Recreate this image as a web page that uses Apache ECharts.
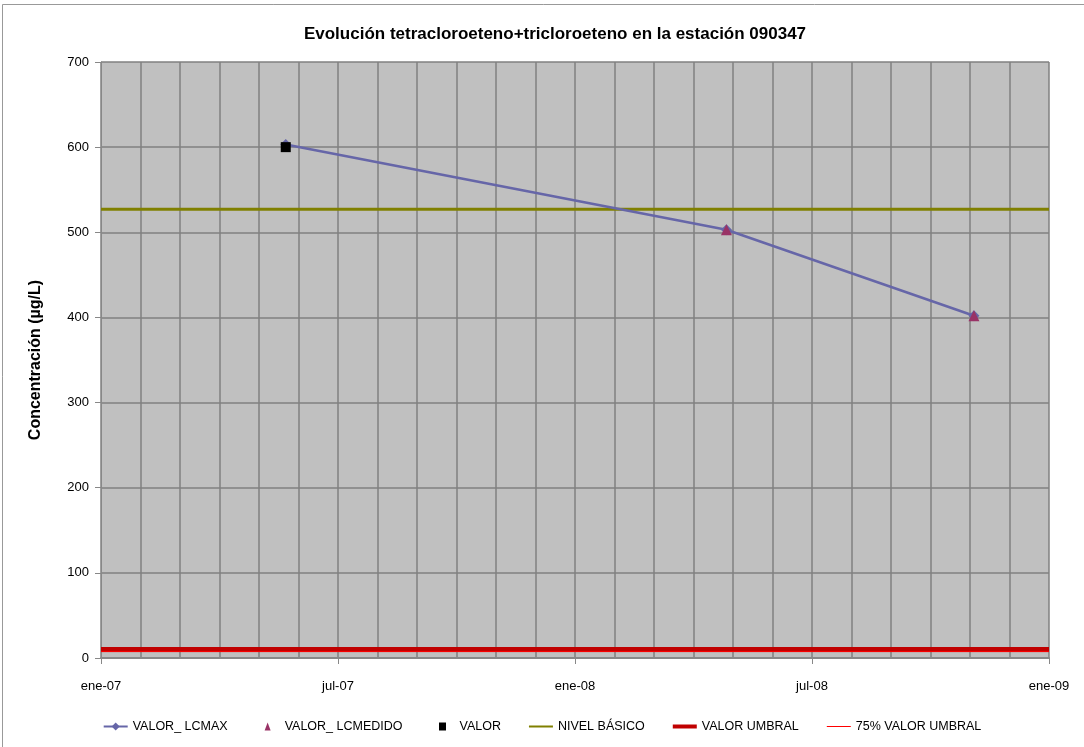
<!DOCTYPE html>
<html><head><meta charset="utf-8">
<script src="https://cdn.jsdelivr.net/npm/echarts@6/dist/echarts.min.js"></script>
<style>html,body{margin:0;padding:0;background:#fff}#c{width:1084px;height:747px}</style>
</head><body><div id="c"></div>
<script>
const title = 'Evolución tetracloroeteno+tricloroeteno en la estación 090347';
const yTitle = 'Concentración (µg/L)';
const sampleDates = ['2007-05-22', '2008-04-26', '2008-11-04'];
const valorLcmax = [603, 503, 402];
const lcmedidoDates = ['2008-04-26', '2008-11-04'];
const valorLcmedido = [503, 402];
const valorDates = ['2007-05-22'];
const valor = [600];
const rangeDates = ['2007-01-01', '2009-01-01'];
const nivelBasico = [527, 527];
const valorUmbral = [10, 10];
const umbral75 = [7.5, 7.5];
const monthNames = ['ene','feb','mar','abr','may','jun','jul','ago','sep','oct','nov','dic'];

function toMonthIndex(s){
  const d = new Date(s + 'T00:00:00Z');
  const y = d.getUTCFullYear(), m = d.getUTCMonth(), day = d.getUTCDate();
  const dim = new Date(Date.UTC(y, m + 1, 0)).getUTCDate();
  return (y - 2007) * 12 + m + (day - 1) / dim;
}
function pairs(dates, vals){ return dates.map((d,i)=>[toMonthIndex(d), vals[i]]); }

const font = 'Liberation Sans, Arial, sans-serif';
const thinLine = 'path://M0,0 L0,0 M0,4.5 L24,4.5 L24,5.5 L0,5.5 Z M24,10 L24,10';
const medLine = 'path://M0,0 L0,0 M0,4 L24,4 L24,6 L0,6 Z M24,10 L24,10';
const thickLine = 'path://M0,0 L0,0 M0,3 L24,3 L24,7 L0,7 Z M24,10 L24,10';
const triIcon = 'path://M0,0 L0,0 M12,1 L15,9 L9,9 Z M24,10 L24,10';
const sqIcon = 'path://M0,0 L0,0 M8.5,1 L15.5,1 L15.5,9 L8.5,9 Z M24,10 L24,10';
const chart = echarts.init(document.getElementById('c'));
chart.setOption({
  animation: false,
  backgroundColor: '#ffffff',
  title: { text: title, left: 550, top: 21, textAlign: 'center',
    textStyle: { fontFamily: font, fontSize: 17, fontWeight: 'bold', color: '#000' } },
  graphic: [{ type: 'rect', shape: { x: 2.5, y: 4.5, width: 1090, height: 760 },
    style: { fill: 'none', stroke: '#999', lineWidth: 1 }, silent: true }],
  grid: { left: 101, right: 35, top: 62, bottom: 89, show: true, backgroundColor: '#C0C0C0', borderWidth: 0 },
  xAxis: {
    type: 'value', min: 0, max: 24, interval: 6,
    axisLine: { lineStyle: { color: '#888', width: 2 } },
    axisTick: { show: true, length: 6, lineStyle: { color: '#888' } },
    axisLabel: { margin: 22, fontFamily: font, fontSize: 13, color: '#000',
      formatter: v => { const y = 7 + Math.floor(v / 12); return monthNames[Math.round(v) % 12] + '-' + String(y).padStart(2,'0'); } },
    splitLine: { show: true, lineStyle: { color: '#808080', width: 1.5 } },
    minorTick: { show: false, splitNumber: 6 },
    minorSplitLine: { show: true, lineStyle: { color: '#808080', width: 1.5 } }
  },
  yAxis: {
    type: 'value', min: 0, max: 700, interval: 100,
    name: yTitle, nameLocation: 'middle', nameGap: 57, nameRotate: 90,
    nameTextStyle: { fontFamily: font, fontSize: 16, fontWeight: 'bold', color: '#000' },
    axisLine: { show: true, lineStyle: { color: '#888', width: 1 } },
    axisTick: { show: true, length: 6, lineStyle: { color: '#888' } },
    axisLabel: { margin: 12, fontFamily: font, fontSize: 13, color: '#000' },
    splitLine: { show: true, lineStyle: { color: '#808080', width: 1.5 } }
  },
  legend: {
    bottom: 9, left: 'center', itemWidth: 24, itemHeight: 10, itemGap: 28,
    textStyle: { fontFamily: font, fontSize: 12.5, color: '#000' },
    data: [
      { name: 'VALOR_ LCMAX' },
      { name: 'VALOR_ LCMEDIDO', icon: triIcon },
      { name: 'VALOR', icon: sqIcon },
      { name: 'NIVEL BÁSICO', icon: medLine },
      { name: 'VALOR UMBRAL', icon: thickLine },
      { name: '75% VALOR UMBRAL', icon: thinLine }
    ]
  },
  series: [
    { name: 'NIVEL BÁSICO', type: 'line', data: pairs(rangeDates, nivelBasico), symbol: 'none',
      lineStyle: { color: '#808000', width: 3 }, itemStyle: { color: '#808000' }, z: 2 },
    { name: 'VALOR UMBRAL', type: 'line', data: pairs(rangeDates, valorUmbral), symbol: 'none',
      lineStyle: { color: '#C00000', width: 5 }, itemStyle: { color: '#C00000' }, z: 2 },
    { name: '75% VALOR UMBRAL', type: 'line', data: pairs(rangeDates, umbral75), symbol: 'none',
      lineStyle: { color: '#FF0000', width: 1 }, itemStyle: { color: '#FF0000' }, z: 3 },
    { name: 'VALOR_ LCMAX', type: 'line', data: pairs(sampleDates, valorLcmax), symbol: 'diamond', symbolSize: 11,
      lineStyle: { color: '#6666A8', width: 2.5 }, itemStyle: { color: '#6666A8' }, z: 4 },
    { name: 'VALOR_ LCMEDIDO', type: 'scatter', data: pairs(lcmedidoDates, valorLcmedido), symbol: 'triangle', symbolSize: 11,
      itemStyle: { color: '#993366', opacity: 1 }, z: 5 },
    { name: 'VALOR', type: 'scatter', data: pairs(valorDates, valor), symbol: 'rect', symbolSize: 10,
      itemStyle: { color: '#000000', opacity: 1 }, z: 6 }
  ]
});
</script></body></html>
